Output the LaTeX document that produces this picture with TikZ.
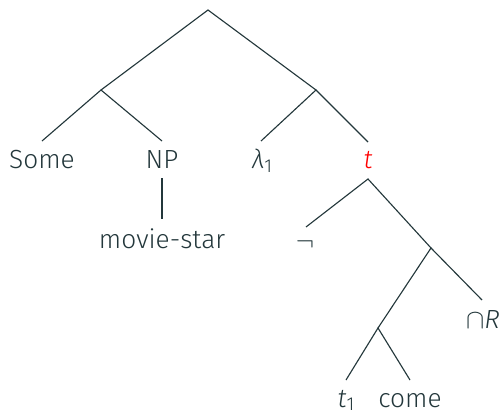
\documentclass[tikz,border=0pt]{standalone}
\usepackage{fontspec}
\setmainfont{Fira Sans}[UprightFont=* Light, ItalicFont=* Light Italic]
\definecolor{dteal}{HTML}{23373B}
\begin{document}
\begin{tikzpicture}[x=0.4pt,y=-0.4pt,
  edge/.style={draw=dteal, line width=0.45pt},
  lbl/.style={anchor=base, inner sep=0pt, text=dteal, font=\fontsize{10.5}{12}\selectfont}]
\useasboundingbox (0,0) rectangle (501,413);
% junctions
\coordinate (root) at (208,10);
\coordinate (a) at (101,90);
\coordinate (b) at (316,90);
\coordinate (tj) at (368,179);
\coordinate (c) at (431,248);
\coordinate (d) at (378,328);
% leaf tops
\coordinate (someT) at (42,141);
\coordinate (npT) at (162,141);
\coordinate (npB) at (162,178);
\coordinate (msT) at (162,219);
\coordinate (lamT) at (261,141);
\coordinate (tT) at (368,142);
\coordinate (negT) at (306,227);
\coordinate (capT) at (482,300);
\coordinate (t1T) at (346,380);
\coordinate (comeT) at (410,380);
% labels
\node[lbl] (some) at (42,169) {Some};
\node[lbl] (np) at (162,169) {NP};
\node[lbl] (ms) at (162,248) {movie-star};
\node[lbl] (lam) at (262,169) {\textit{λ}\raisebox{-0.25ex}{\fontsize{7.5}{8}\selectfont 1}};
\node[lbl, text=red] (t) at (368,168) {\textit{t}};
\node[lbl] (neg) at (305,250) {$\neg$};
\node[lbl] (cap) at (483,328) {$\cap$\textit{R}};
\node[lbl] (t1) at (346,407) {\textit{t}\raisebox{-0.25ex}{\fontsize{7.5}{8}\selectfont 1}};
\node[lbl] (come) at (410,407) {come};
% edges
\draw[edge] (someT) -- (a) -- (npT);
\draw[edge] (a) -- (root) -- (b);
\draw[edge] (lamT) -- (b) -- (tT);
\draw[edge] (npB) -- (msT);
\draw[edge] (negT) -- (tj) -- (c);
\draw[edge] (d) -- (c) -- (capT);
\draw[edge] (t1T) -- (d) -- (comeT);
\end{tikzpicture}
\end{document}
